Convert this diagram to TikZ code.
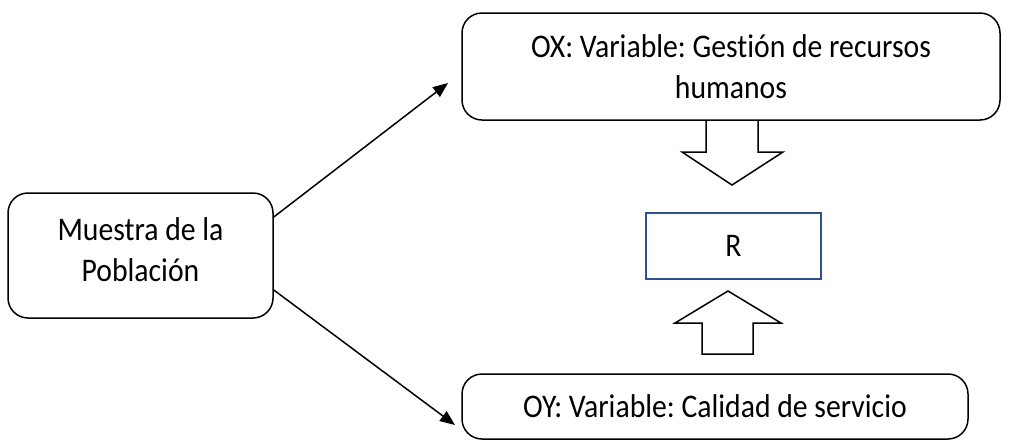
\documentclass[tikz,border=0pt]{standalone}
\usepackage{fontspec}
\setmainfont[Ligatures=NoCommon,FakeStretch=0.9]{Carlito}
\usetikzlibrary{arrows.meta}
\definecolor{rblue}{RGB}{47,82,143}
\begin{document}
\frenchspacing
\begin{tikzpicture}[x=1pt,y=-1pt,
  txt/.style={align=center,inner sep=0pt,font=\fontsize{33}{41}\selectfont},
  box/.style={txt,draw=black,line width=1.5pt,rounded corners=20pt},
  blk/.style={draw=black,line width=1.5pt,fill=white,line join=miter},
  conn/.style={line width=1.5pt,-{Triangle[length=15pt,width=12pt]}}]
\useasboundingbox (0,0) rectangle (1009,440);
\node[box,minimum width=265pt,minimum height=125pt] (L) at (140.5,255.5) {};
\node[txt] (Lt) at ([yshift=6pt]L.center) {Muestra de la\\Población};
\node[box,minimum width=538pt,minimum height=107pt] (T) at (731,66.5) {OX: Variable: Gestión de recursos\\humanos};
\node[box,minimum width=506pt,minimum height=65pt] (B) at (715,406.5) {OY: Variable: Calidad de servicio};
\node[txt,draw=rblue,line width=1.5pt,minimum width=175pt,minimum height=66pt] (R) at (733.5,246) {R};
\draw[blk] (706,121) -- (706,152) -- (682,152) -- (732,185) -- (783,152) -- (758,152) -- (758,121);
\draw[blk] (702,354) -- (702,323) -- (675,323) -- (728,291) -- (781,323) -- (753,323) -- (753,354) -- cycle;
\coordinate (t1) at (448,83);
\coordinate (t2) at (455,425);
\draw[conn] ([yshift=38.5pt]L.east) -- (t1);
\draw[conn] ([yshift=-34.5pt]L.east) -- (t2);
\end{tikzpicture}
\end{document}
